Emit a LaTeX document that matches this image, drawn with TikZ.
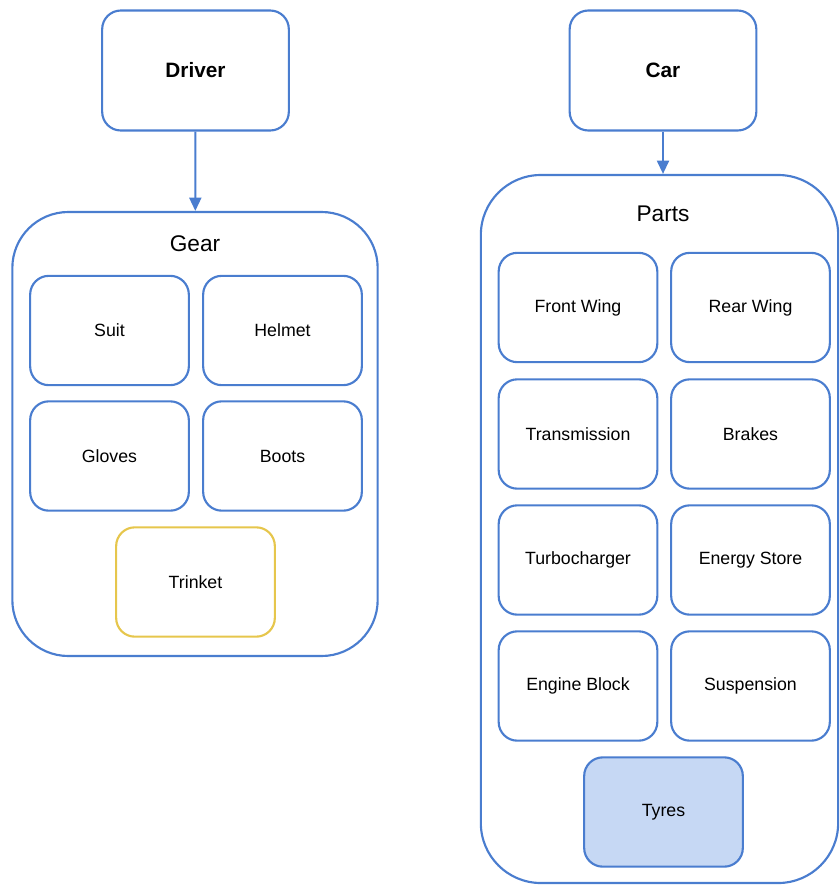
\documentclass[tikz,border=0pt]{standalone}
\usepackage{fontspec}
\setmainfont{Liberation Sans}
\usetikzlibrary{arrows.meta,positioning}
\definecolor{lineblue}{HTML}{4A7DCF}
\definecolor{tyreblue}{HTML}{C6D8F4}
\definecolor{trinketgold}{HTML}{E6C64C}

\begin{document}
\begin{tikzpicture}[x=.75pt,y=-.75pt,>={Triangle[length=10pt,width=9pt]},
  box/.style={draw=lineblue,line width=1.6pt,rounded corners=14pt,
    minimum width=119pt,minimum height=82pt,font=\fontsize{13.3}{15}\selectfont},
  head/.style={box,minimum width=140pt,minimum height=90pt,
    font=\fontsize{15.6}{18}\selectfont\bfseries},
  group/.style={draw=lineblue,line width=1.6pt,rounded corners=42pt},
  flow/.style={->,lineblue,line width=1.6pt}]
  \useasboundingbox (0,0) rectangle (839,885);
  % driver side
  \node[head] (driver) at (195.5,70.5) {Driver};
  \node[group,minimum width=274pt,minimum height=333pt] (gear) at (195,434) {};
  \node[font=\fontsize{17}{20}\selectfont] (gearlbl) at (195,244) {Gear};
  \node[box] (suit) at (109.5,330.5) {Suit};
  \node[box] (helmet) at (282.5,330.5) {Helmet};
  \node[box] (gloves) at (109.5,456) {Gloves};
  \node[box] (boots) at (282.5,456) {Boots};
  \node[box,draw=trinketgold] (trinket) at (195.5,582) {Trinket};
  \draw[flow] (driver) -- (gear);
  % car side
  \node[head] (car) at (663,70.5) {Car};
  \node[group,minimum width=268pt,minimum height=531pt,rounded corners=45pt] (parts) at (659.5,529) {};
  \node[font=\fontsize{17}{20}\selectfont] (partslbl) at (663,214) {Parts};
  \node[box] (fwing) at (578,307.5) {Front Wing};
  \node[box] (rwing) at (750.5,307.5) {Rear Wing};
  \node[box] (trans) at (578,434) {Transmission};
  \node[box] (brakes) at (750.5,434) {Brakes};
  \node[box] (turbo) at (578,560) {Turbocharger};
  \node[box] (energy) at (750.5,560) {Energy Store};
  \node[box] (engine) at (578,686) {Engine Block};
  \node[box] (susp) at (750.5,686) {Suspension};
  \node[box,fill=tyreblue] (tyres) at (663.5,812) {Tyres};
  \draw[flow] (car) -- (car |- parts.north);
\end{tikzpicture}
\end{document}
